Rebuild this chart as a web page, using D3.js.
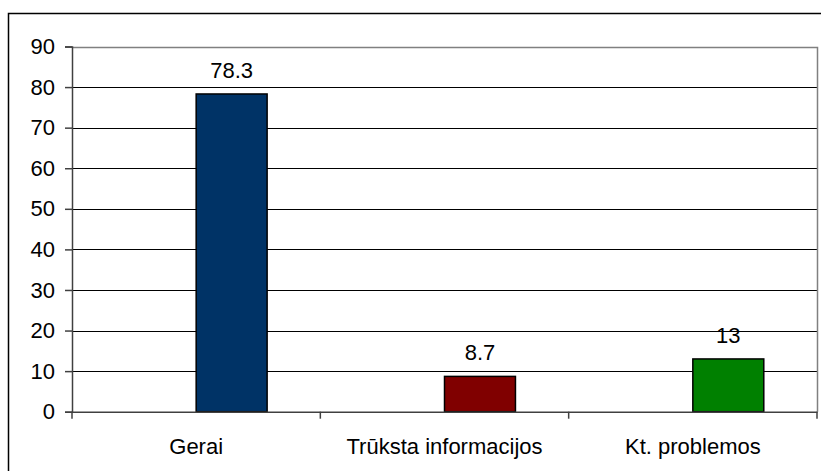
<!DOCTYPE html>
<html>
<head>
<meta charset="utf-8">
<script src="https://cdn.jsdelivr.net/npm/d3@7/dist/d3.min.js"></script>
<style>
  html, body { margin: 0; padding: 0; background: #fff; }
  svg { display: block; }
  text { font-family: "Liberation Sans", Arial, sans-serif; fill: #000; }
</style>
</head>
<body>
<script>
// Survey answers and their shares (%)
const categories = ["Gerai", "Trūksta informacijos", "Kt. problemos"];
const values = [78.3, 8.7, 13];
const barColors = ["#003366", "#800000", "#008000"];
const yTicks = [0, 10, 20, 30, 40, 50, 60, 70, 80, 90];

const W = 821, H = 471;
const plot = { left: 72, right: 817, top: 46.5, bottom: 411.7 };
const fontSize = 22;

const svg = d3.select("body").append("svg")
  .attr("width", W).attr("height", H);

// Outer chart frame (runs past the right and bottom edges)
svg.append("rect")
  .attr("x", 8.5).attr("y", 13.5)
  .attr("width", W + 20).attr("height", H + 20)
  .attr("fill", "none").attr("stroke", "#000").attr("stroke-width", 1.5);

const x = d3.scaleBand().domain(categories).range([plot.left, plot.right]);
// Each category holds two bar slots; the value sits in the second one
const slot = d3.scaleBand().domain([0, 1]).range([0, x.bandwidth()])
  .paddingInner(0).paddingOuter(0.75);
const y = d3.scaleLinear().domain([0, 90]).range([plot.bottom, plot.top]);

// Horizontal gridlines
svg.append("g").selectAll("line")
  .data(yTicks.filter(t => t > 0 && t < 90))
  .join("line")
  .attr("x1", plot.left).attr("x2", plot.right)
  .attr("y1", d => Math.round(y(d)) + 0.5).attr("y2", d => Math.round(y(d)) + 0.5)
  .attr("stroke", "#000").attr("stroke-width", 1);

// Plot area border (top and right)
svg.append("path")
  .attr("d", `M${plot.left},${Math.round(y(90)) + 0.5}H${plot.right + 0.5}V${plot.bottom}`)
  .attr("fill", "none").attr("stroke", "#808080").attr("stroke-width", 1.5);

// Bars
svg.append("g").selectAll("rect")
  .data(values)
  .join("rect")
  .attr("x", (d, i) => x(categories[i]) + slot(1))
  .attr("width", slot.bandwidth())
  .attr("y", d => y(d))
  .attr("height", d => y(0) - y(d))
  .attr("fill", (d, i) => barColors[i])
  .attr("stroke", "#000").attr("stroke-width", 1.5);

// Value labels above bars
svg.append("g").selectAll("text")
  .data(values)
  .join("text")
  .attr("x", (d, i) => x(categories[i]) + slot(1) + slot.bandwidth() / 2)
  .attr("y", d => y(d) - 16)
  .attr("text-anchor", "middle")
  .attr("font-size", fontSize)
  .text(d => String(d));

// Y axis
const yAxis = d3.axisLeft(y).tickValues(yTicks).tickSize(7).tickPadding(10);
const gy = svg.append("g")
  .attr("transform", `translate(${plot.left},0)`)
  .call(yAxis);
gy.select(".domain").attr("stroke", "#404040").attr("stroke-width", 1.5);
gy.selectAll(".tick line").attr("stroke", "#404040").attr("stroke-width", 1.5);
gy.selectAll(".tick text")
  .attr("font-size", fontSize)
  .attr("font-family", "Liberation Sans, Arial, sans-serif")
  .attr("fill", "#000");

// X axis: ticks at category boundaries
const xAxis = d3.axisBottom(x).tickSize(0).tickPadding(27);
const gx = svg.append("g")
  .attr("transform", `translate(0,${plot.bottom})`)
  .call(xAxis);
gx.select(".domain").attr("stroke", "#404040").attr("stroke-width", 1.5);
gx.selectAll(".tick text")
  .attr("font-size", fontSize)
  .attr("font-family", "Liberation Sans, Arial, sans-serif")
  .attr("fill", "#000");

const bounds = [plot.left, ...categories.slice(1).map(c => x(c)), plot.right];
svg.append("g").selectAll("line")
  .data(bounds)
  .join("line")
  .attr("x1", d => d).attr("x2", d => d)
  .attr("y1", plot.bottom).attr("y2", plot.bottom + 7)
  .attr("stroke", "#404040").attr("stroke-width", 1.5);
</script>
</body>
</html>
